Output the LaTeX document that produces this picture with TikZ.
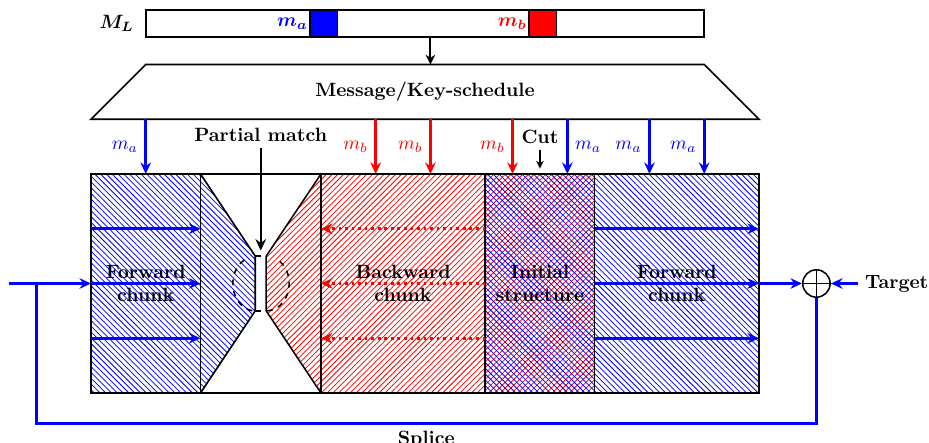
\documentclass[tikz,border=0pt]{standalone}
\usepackage{amsmath}
\usetikzlibrary{patterns,positioning,arrows.meta}
\tikzset{
	chunk/.style={font=\bfseries, align=center},
	tip/.style={-{Stealth[length=6pt, width=5.5pt, inset=2pt]}},
	fwd/.style={draw=blue, line width=1.4pt, tip},
	bwd/.style={draw=red, line width=1.4pt, dotted, tip},
	outline/.style={draw=black, thick},
}

\begin{document}
\begin{tikzpicture}
		%%%%% START %%%%%
		\useasboundingbox (-1.662,-0.913) rectangle (15.306,7.178);
		
		% message bar
		\draw[outline] (1,6.5) rectangle (11.2,7);
		\draw[outline, fill=blue] (4,6.5) rectangle (4.5,7);
		\draw[outline, fill=red] (8,6.5) rectangle (8.5,7);
		\node (ml) at (0.47,6.75) {$\boldsymbol{M_L}$};
		\node[anchor=east, inner sep=1pt, text=blue] (mabar) at (4,6.75) {$\boldsymbol{m_a}$};
		\node[anchor=east, inner sep=1pt, text=red] (mbbar) at (8,6.75) {$\boldsymbol{m_b}$};
		
		% key schedule
		\draw[outline] (0,5) -- (1,6) -- (11.2,6) -- (12.2,5) -- cycle;
		\node[font=\bfseries] (ks) at (6.1,5.5) {Message/Key-schedule};
		\draw[line width=1pt, -{Stealth[length=5pt, width=5pt, inset=1.5pt]}] (6.2,6.5) -- (6.2,6);
		
		\foreach \x in {1,10.2,11.2}
			\draw[fwd] (\x,5) -- node[left, text=blue] {$m_a$} (\x,4);
		\draw[fwd] (8.7,5) -- node[right, text=blue] {$m_a$} (8.7,4);
		\foreach \x in {5.2,6.2,7.7}
			\draw[fwd, draw=red] (\x,5) -- node[left, text=red] {$m_b$} (\x,4);
		
		% chunks
		\fill[pattern=north west lines, pattern color=blue] (0,0) rectangle (2,4);
		\fill[pattern=north west lines, pattern color=blue] (2,4) -- (3,2.5) -- (3,1.5) -- (2,0) -- cycle;
		\fill[pattern=north east lines, pattern color=red] (4.2,4) -- (3.2,2.5) -- (3.2,1.5) -- (4.2,0) -- cycle;
		\fill[pattern=north east lines, pattern color=red] (4.2,0) rectangle (7.2,4);
		\fill[pattern=north east lines, pattern color=red] (7.2,0) rectangle (9.2,4);
		\fill[pattern=north west lines, pattern color=blue] (7.2,0) rectangle (9.2,4);
		\fill[pattern=north west lines, pattern color=blue] (9.2,0) rectangle (12.2,4);
		
		\draw[outline] (0,0) rectangle (12.2,4);
		\foreach \x in {2,4.2,7.2,9.2}
			\draw[outline] (\x,0) -- (\x,4);
		\draw[outline] (2,4) -- (3,2.5) -- (3,1.5) -- (2,0);
		\draw[outline] (4.2,4) -- (3.2,2.5) -- (3.2,1.5) -- (4.2,0);
		\draw[outline, dashed] (3,2.5) -- (3.2,2.5) (3,1.5) -- (3.2,1.5);
		\draw[outline, dashed] (2.8,2.43) arc (120:268:0.42 and 0.5);
		\draw[outline, dashed] (3.215,1.5) arc (-88:62:0.42 and 0.5);
		
		\foreach \y in {1,2,3} {
			\draw[fwd] (0,\y) -- (2,\y);
			\draw[bwd] (7.2,\y) -- (4.2,\y);
			\draw[fwd] (9.2,\y) -- (12.2,\y);
		}
		
		\node[chunk] (fc1) at (1,2) {Forward\\chunk};
		\node[chunk] (bc) at (5.7,2) {Backward\\chunk};
		\node[chunk] (is) at (8.2,2) {Initial\\structure};
		\node[chunk] (fc2) at (10.7,2) {Forward\\chunk};
		
		% partial match and cut
		\node[font=\bfseries] (pm) at (3.1,4.72) {Partial match};
		\coordinate (pmtip) at (3.1,2.6);
		\draw[line width=1pt, -{Stealth[length=6pt, width=5.5pt, inset=2pt]}] (pm.south) -- (pmtip);
		\node[font=\bfseries] (cut) at (8.2,4.68) {Cut};
		\coordinate (cuttip) at (8.2,4.1);
		\draw[semithick, -{Stealth[length=4pt, width=4pt, inset=1.2pt]}] (cut.south) -- (cuttip);
		
		% feed-forward and splice
		\node[draw, thick, circle, minimum size=0.5cm, inner sep=0pt] (xor) at (13.25,2) {};
		\draw[thick] (xor.north) -- (xor.south) (xor.west) -- (xor.east);
		\node[font=\bfseries, right=0.5cm of xor] (tgt) {Target};
		\coordinate (out) at (12.2,2);
		\coordinate (in) at (-1.5,2);
		\coordinate (join) at (-1,2);
		\draw[fwd] (out) -- (xor.west);
		\draw[fwd] (tgt) -- (xor.east);
		\draw[fwd] (in) -- (0,2);
		\draw[blue, line width=1.6pt] (xor.south) |- (-1,-0.55) node[pos=0.75, below, text=black, font=\bfseries] (spl) {Splice} -- (join);
		
		%%%%% END %%%%%
\end{tikzpicture}
\end{document}
